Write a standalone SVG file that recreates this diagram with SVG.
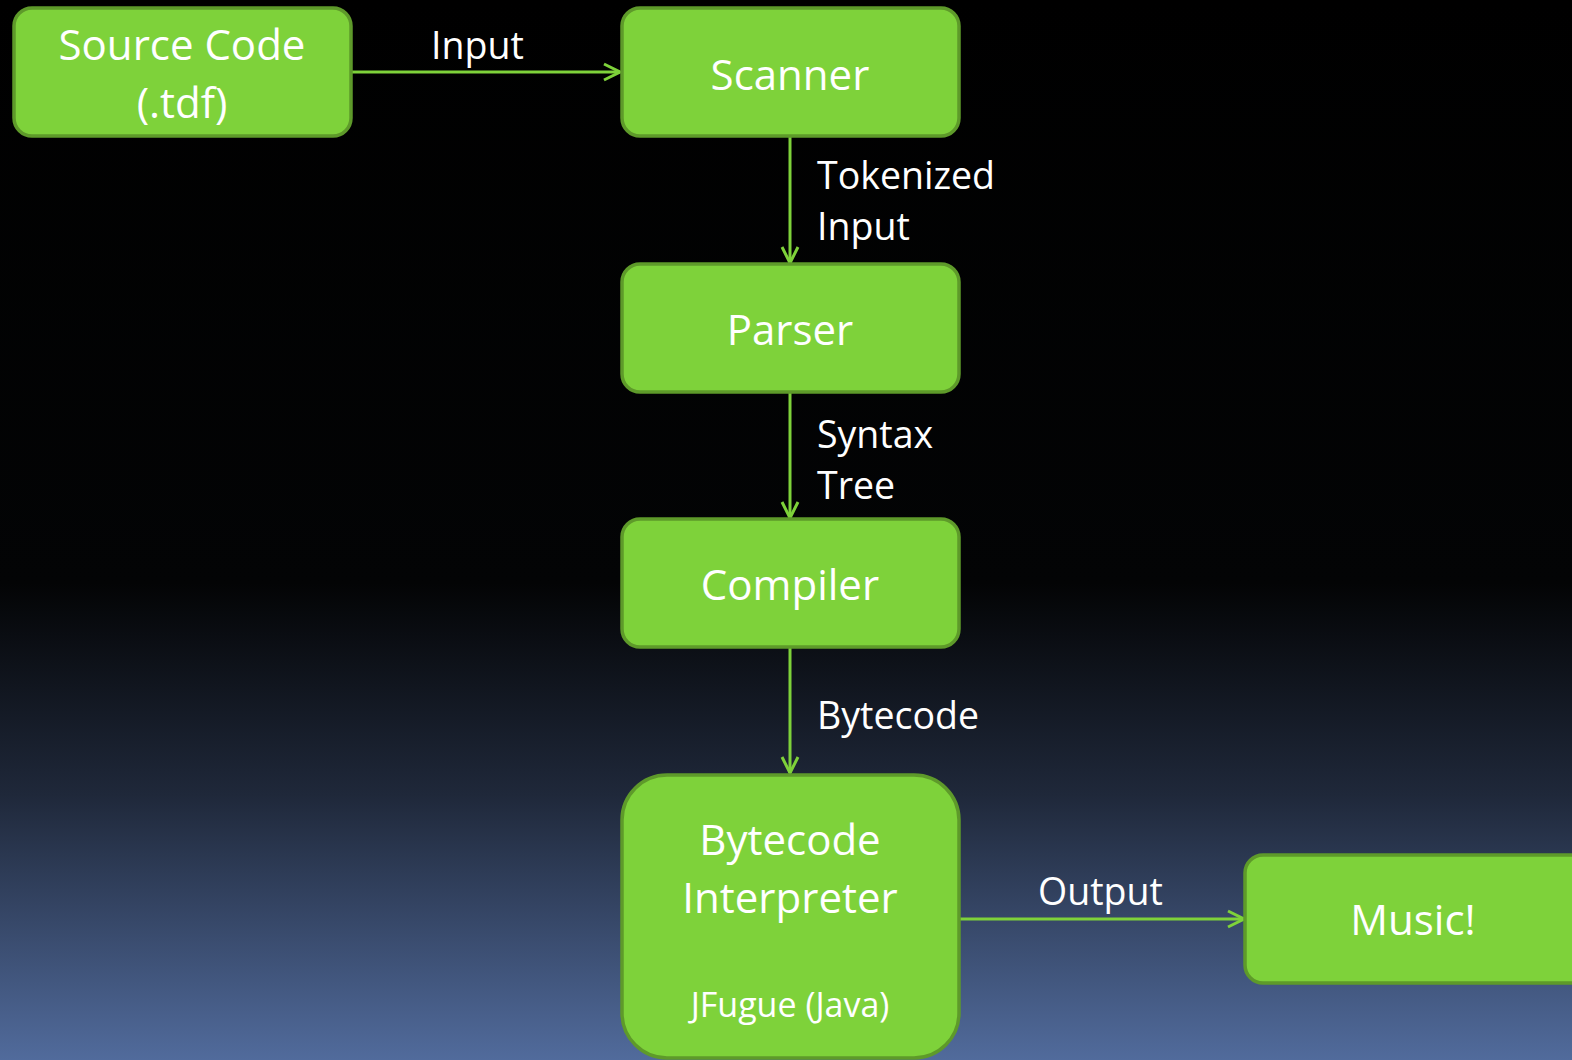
<svg xmlns="http://www.w3.org/2000/svg" width="1572" height="1060" viewBox="0 0 1572 1060">
<defs>
<linearGradient id="bg" x1="0" y1="0" x2="0" y2="1">
<stop offset="0" stop-color="#000000"/>
<stop offset="0.55" stop-color="#030405"/>
<stop offset="0.75" stop-color="#1f283a"/>
<stop offset="1" stop-color="#516b9c"/>
</linearGradient>
<marker id="arr" markerWidth="20" markerHeight="20" refX="18" refY="10" orient="auto" markerUnits="userSpaceOnUse">
<path d="M2,2 L18,10 L2,18" fill="none" stroke="#7ed23a" stroke-width="3"/>
</marker>
</defs>
<style>
.box{fill:#7ed23a;stroke:#5e9a2a;stroke-width:3.5}
.t{font-family:"Open Sans","Noto Sans",sans-serif;fill:#ffffff;text-anchor:middle;font-size:42px}
.lbl{font-family:"Open Sans","Noto Sans",sans-serif;fill:#ffffff;font-size:37.5px}
.con{stroke:#7ed23a;stroke-width:3;fill:none}
</style>
<rect width="1572" height="1060" fill="url(#bg)"/>
<g id="connectors">
<line class="con" x1="351" y1="72" x2="620" y2="72" marker-end="url(#arr)"/>
<line class="con" x1="790" y1="137" x2="790" y2="263" marker-end="url(#arr)"/>
<line class="con" x1="790" y1="392" x2="790" y2="518" marker-end="url(#arr)"/>
<line class="con" x1="790" y1="647" x2="790" y2="773" marker-end="url(#arr)"/>
<line class="con" x1="959" y1="919" x2="1244" y2="919" marker-end="url(#arr)"/>
<text class="lbl" x="431" y="59">Input</text>
<text class="lbl" x="817" y="189">Tokenized</text>
<text class="lbl" x="817" y="240">Input</text>
<text class="lbl" x="817" y="448">Syntax</text>
<text class="lbl" x="817" y="499">Tree</text>
<text class="lbl" x="817" y="729">Bytecode</text>
<text class="lbl" x="1038" y="905">Output</text>
</g>
<g id="source">
<rect class="box" x="14" y="8" width="337" height="128" rx="18"/>
<text class="t" x="182" y="60">Source Code</text>
<text class="t" x="182" y="118">(.tdf)</text>
</g>
<g id="scanner">
<rect class="box" x="622" y="8" width="337" height="128" rx="18"/>
<text class="t" x="790" y="90">Scanner</text>
</g>
<g id="parser">
<rect class="box" x="622" y="264" width="337" height="128" rx="18"/>
<text class="t" x="790" y="345">Parser</text>
</g>
<g id="compiler">
<rect class="box" x="622" y="519" width="337" height="128" rx="18"/>
<text class="t" x="790" y="600">Compiler</text>
</g>
<g id="interpreter">
<rect class="box" x="622" y="775" width="337" height="283" rx="45"/>
<text class="t" x="790" y="855">Bytecode</text>
<text class="t" x="790" y="913">Interpreter</text>
<text class="t" x="790" y="1017" style="font-size:34px">JFugue (Java)</text>
</g>
<g id="music">
<rect class="box" x="1245" y="855" width="345" height="128" rx="18"/>
<text class="t" x="1413" y="935">Music!</text>
</g>
</svg>
